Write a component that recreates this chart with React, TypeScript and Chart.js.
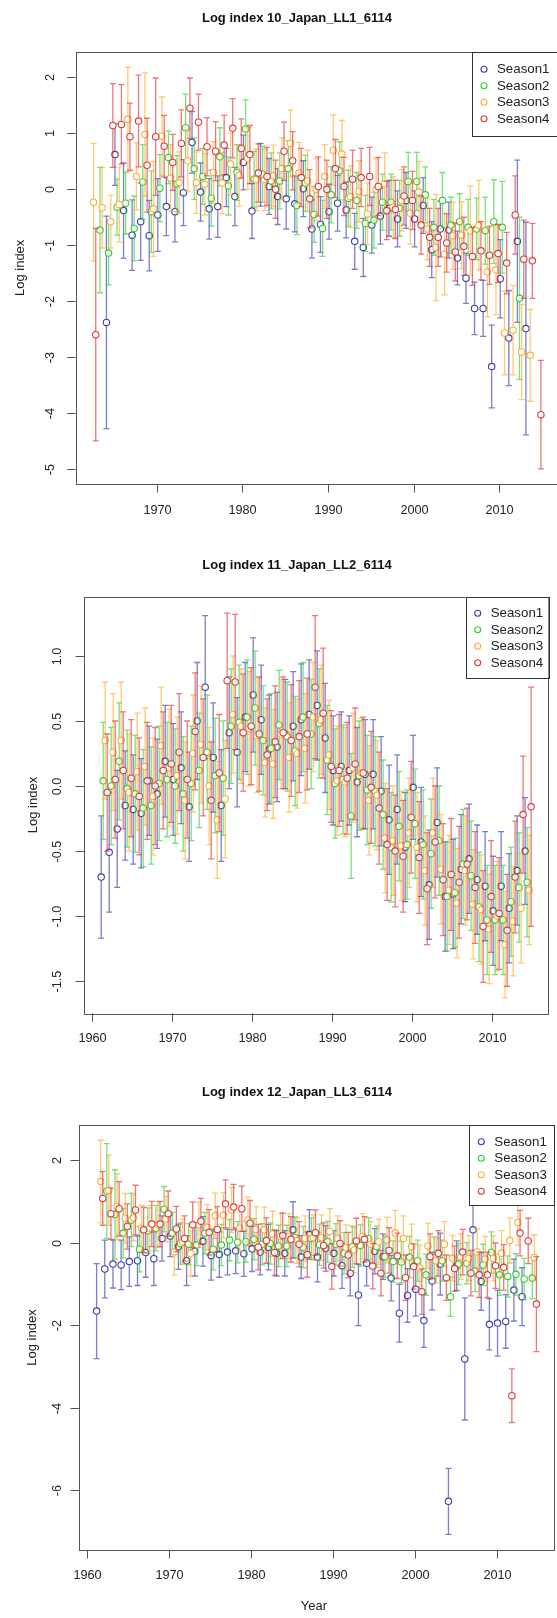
import React, { useEffect, useRef } from "react";
import { Chart, registerables } from "chart.js";

Chart.register(...registerables);

// ---------------- DATA ----------------
const years = [
  1961, 1962, 1963, 1964, 1965, 1966, 1967, 1968, 1969, 1970,
  1971, 1972, 1973, 1974, 1975, 1976, 1977, 1978, 1979, 1980,
  1981, 1982, 1983, 1984, 1985, 1986, 1987, 1988, 1989, 1990,
  1991, 1992, 1993, 1994, 1995, 1996, 1997, 1998, 1999, 2000,
  2001, 2002, 2003, 2004, 2005, 2006, 2007, 2008, 2009, 2010,
  2011, 2012, 2013, 2014,
];
const seasonNames = ["Season1", "Season2", "Season3", "Season4"];
const yAxisTitle = "Log index";
const xAxisTitle = "Year";

// Panel 1 : Log index 10_Japan_LL1_6114
const p1Title = "Log index 10_Japan_LL1_6114";
const p1S1 = [
  null, null, null, -2.38, 0.62, -0.38, -0.82, -0.58, -0.83, -0.46,
  -0.31, -0.4, -0.06, 0.84, -0.05, -0.35, -0.31, 0.21, -0.13, 0.48,
  -0.39, 0.26, 0.05, -0.13, -0.17, -0.26, 0.01, -0.71, -0.63, -0.4,
  -0.25, -0.37, -0.93, -1.04, -0.64, -0.48, -0.34, -0.53, -0.2, -0.53,
  -0.29, -1.08, -0.71, -0.73, -1.23, -1.59, -2.13, -2.13, -3.17, -1.6,
  -2.66, -0.93, -2.49, null,
];
const p1S1Err = [
  null, null, null, 1.9, 0.55, 0.85, 0.63, 0.69, 0.63, 0.65,
  0.52, 0.54, 0.59, 0.55, 0.52, 0.54, 0.55, 0.52, 0.52, 0.49,
  0.49, 0.56, 0.5, 0.5, 0.54, 0.5, 0.5, 0.52, 0.5, 0.49,
  0.5, 0.5, 0.5, 0.52, 0.5, 0.5, 0.5, 0.5, 0.5, 0.5,
  0.5, 0.5, 0.5, 0.5, 0.48, 0.45, 0.47, 0.5, 0.74, 0.7,
  0.85, 1.45, 1.9, null,
];
const p1S2 = [
  null, null, -0.73, -1.14, -0.32, -0.25, -0.7, 0.13, -0.4, 0.02,
  0.57, 0.1, 1.1, 0.37, 0.23, -0.16, 0.58, 0.06, 0.3, 1.08,
  0.18, 0.27, 0.15, 0.15, 0.37, -0.29, 0.11, -0.45, -0.7, -0.1,
  0.33, -0.16, -0.2, -0.61, -0.55, -0.23, -0.23, -0.34, 0.14, 0.14,
  -0.1, -0.68, -0.2, -0.64, -0.58, -0.68, -0.71, -0.74, -0.58, -0.68,
  null, -1.95, null, null,
];
const p1S2Err = [
  null, null, 1.12, 0.57, 0.5, 0.55, 0.58, 0.67, 0.73, 0.6,
  0.47, 0.5, 0.6, 0.55, 0.5, 0.5, 0.52, 0.52, 0.5, 0.52,
  0.5, 0.5, 0.5, 0.5, 0.5, 0.52, 0.5, 0.5, 0.5, 0.5,
  0.52, 0.5, 0.5, 0.5, 0.5, 0.5, 0.5, 0.5, 0.52, 0.52,
  0.5, 0.5, 0.5, 0.5, 0.5, 0.5, 0.55, 0.6, 0.75, 0.82,
  null, 1.45, null, null,
];
const p1S3 = [
  null, -0.23, -0.33, -0.58, -0.27, 1.25, 0.23, 0.98, -0.35, 0.95,
  0.2, 0.12, 0.51, 0.12, 0.09, 0.3, 0.11, 0.45, 0.25, 0.55,
  0.17, 0.17, 0.24, 0.37, 0.82, 0.29, 0.15, 0.0, 0.23, 0.7,
  0.63, -0.13, -0.04, -0.44, 0.0, 0.1, -0.32, -0.2, -0.43, -0.05,
  -0.71, -1.04, -1.16, -0.83, -0.82, -0.74, -0.64, -1.48, -1.44, -2.57,
  -2.52, -2.91, -2.97, null,
];
const p1S3Err = [
  null, 1.05, 0.72, 0.47, 0.67, 0.93, 0.6, 1.1, 0.85, 0.7,
  0.6, 0.55, 0.55, 0.55, 0.55, 0.55, 0.55, 0.55, 0.55, 0.55,
  0.55, 0.55, 0.55, 0.55, 0.6, 0.55, 0.55, 0.55, 0.57, 0.63,
  0.6, 0.55, 0.55, 0.55, 0.55, 0.55, 0.55, 0.55, 0.55, 0.55,
  0.55, 0.95, 0.73, 0.6, 0.6, 0.8, 0.8, 0.8, 0.8, 0.75,
  0.8, 0.85, 0.82, null,
];
const p1S4 = [
  null, -2.6, null, 1.14, 1.16, 0.94, 1.22, 0.43, 0.94, 0.77,
  0.48, 0.82, 1.45, 1.2, 0.76, 0.68, 0.79, 1.09, 0.73, 0.62,
  0.29, 0.23, 0.0, 0.68, 0.51, 0.21, -0.17, 0.05, 0.0, 0.37,
  0.05, 0.18, 0.21, 0.23, 0.05, -0.38, -0.36, -0.12, -0.2, -0.64,
  -0.86, -0.86, -0.96, -1.12, -1.02, -1.2, -1.1, -1.18, -1.15, -1.32,
  -0.46, -1.25, -1.28, -4.03,
];
const p1S4Err = [
  null, 1.9, null, 0.75, 0.71, 0.6, 0.82, 0.84, 1.05, 0.55,
  0.5, 0.6, 0.54, 0.5, 0.52, 0.53, 0.53, 0.53, 0.53, 0.52,
  0.52, 0.52, 0.52, 0.52, 0.52, 0.52, 0.52, 0.53, 0.52, 0.52,
  0.52, 0.52, 0.52, 0.52, 0.52, 0.52, 0.52, 0.52, 0.52, 0.52,
  0.52, 0.52, 0.52, 0.52, 0.52, 0.52, 0.52, 0.52, 0.52, 0.55,
  0.7, 0.7, 0.67, 0.97,
];
const p1XTicks = [1970, 1980, 1990, 2000, 2010];
const p1YTicks = [2, 1, 0, -1, -2, -3, -4, -5];
const p1YTickLabels = ["2", "1", "0", "-1", "-2", "-3", "-4", "-5"];

// Panel 2 : Log index 11_Japan_LL2_6114
const p2Title = "Log index 11_Japan_LL2_6114";
const p2S1 = [
  -0.7, -0.51, -0.33, -0.15, -0.18, -0.21, 0.04, -0.06, 0.19, 0.05,
  0.14, -0.16, 0.5, 0.76, 0.22, -0.15, 0.41, 0.26, 0.53, 0.7,
  0.51, 0.28, 0.3, 0.4, 0.46, 0.51, 0.55, 0.62, 0.37, 0.12,
  0.15, 0.12, 0.03, 0.09, 0.09, -0.04, -0.26, -0.18, -0.47, -0.01,
  -0.43, -0.76, -0.28, -0.85, -0.83, -0.64, -0.56, -0.72, -0.77, -0.96,
  -0.77, -0.94, -0.65, -0.5,
];
const p2S1Err = [
  0.47, 0.46, 0.45, 0.42, 0.42, 0.42, 0.42, 0.42, 0.43, 0.43,
  0.43, 0.42, 0.45, 0.55, 0.42, 0.43, 0.43, 0.42, 0.42, 0.44,
  0.42, 0.42, 0.42, 0.42, 0.42, 0.43, 0.42, 0.42, 0.42, 0.42,
  0.42, 0.42, 0.42, 0.42, 0.42, 0.42, 0.42, 0.42, 0.42, 0.4,
  0.42, 0.42, 0.42, 0.42, 0.42, 0.42, 0.42, 0.42, 0.42, 0.42,
  0.42, 0.42, 0.42, 0.41,
];
const p2S2 = [
  0.04, 0.0, 0.19, -0.02, -0.06, -0.17, -0.15, 0.02, 0.05, 0.0,
  -0.06, 0.02, 0.12, 0.26, 0.08, 0.06, 0.46, 0.49, 0.53, 0.6,
  0.35, 0.29, 0.47, 0.38, 0.27, 0.53, 0.4, 0.48, 0.2, 0.02,
  0.05, -0.23, 0.08, -0.03, -0.04, -0.22, -0.47, -0.31, -0.45, -0.29,
  -0.45, -0.52, -0.42, -0.85, -0.82, -0.6, -0.69, -0.93, -1.03, -1.03,
  -1.03, -0.89, -0.78, -0.74,
];
const p2S2Err = [
  0.45, 0.45, 0.45, 0.45, 0.45, 0.45, 0.45, 0.44, 0.44, 0.44,
  0.44, 0.44, 0.44, 0.44, 0.44, 0.44, 0.44, 0.44, 0.44, 0.44,
  0.42, 0.42, 0.42, 0.42, 0.42, 0.42, 0.42, 0.42, 0.42, 0.42,
  0.42, 0.48, 0.42, 0.42, 0.42, 0.42, 0.42, 0.42, 0.42, 0.42,
  0.42, 0.42, 0.42, 0.42, 0.42, 0.42, 0.42, 0.42, 0.42, 0.42,
  0.42, 0.42, 0.42, 0.42,
];
const p2S3 = [
  0.35, 0.26, 0.35, -0.05, 0.11, 0.15, -0.08, 0.31, 0.14, 0.08,
  -0.11, 0.25, 0.32, 0.0, -0.26, -0.1, 0.55, 0.46, 0.44, 0.39,
  0.18, 0.17, 0.4, 0.22, 0.25, 0.29, 0.53, 0.51, 0.24, 0.04,
  0.03, 0.14, 0.1, -0.11, -0.07, -0.4, -0.42, -0.46, -0.36, -0.47,
  -0.65, -0.36, -0.64, -0.8, -0.9, -0.65, -0.91, -0.95, -1.1, -1.0,
  -1.22, -1.04, -0.94, -0.8,
];
const p2S3Err = [
  0.45, 0.45, 0.45, 0.45, 0.45, 0.45, 0.45, 0.45, 0.45, 0.45,
  0.45, 0.45, 0.45, 0.45, 0.45, 0.45, 0.45, 0.44, 0.44, 0.44,
  0.42, 0.42, 0.42, 0.42, 0.42, 0.42, 0.42, 0.42, 0.42, 0.42,
  0.42, 0.42, 0.42, 0.42, 0.42, 0.42, 0.42, 0.42, 0.42, 0.42,
  0.42, 0.42, 0.42, 0.42, 0.42, 0.42, 0.42, 0.42, 0.42, 0.42,
  0.41, 0.42, 0.42, 0.42,
];
const p2S4 = [
  -0.05, 0.05, 0.12, 0.06, -0.08, 0.04, 0.0, 0.12, 0.17, 0.26,
  0.05, 0.42, 0.22, -0.11, 0.1, 0.81, 0.8, 0.41, 0.46, 0.4,
  0.24, 0.34, 0.41, 0.35, 0.38, 0.4, 0.76, 0.56, 0.15, 0.12,
  0.06, 0.17, 0.1, -0.01, -0.17, -0.45, -0.5, -0.54, -0.24, -0.55,
  -0.79, -0.43, -0.72, -0.68, -0.74, -0.6, -0.78, -1.08, -0.85, -0.98,
  -1.11, -0.7, -0.22, -0.16,
];
const p2S4Err = [
  0.45, 0.45, 0.45, 0.45, 0.45, 0.45, 0.45, 0.45, 0.45, 0.45,
  0.45, 0.45, 0.45, 0.45, 0.45, 0.52, 0.52, 0.45, 0.45, 0.44,
  0.43, 0.43, 0.43, 0.43, 0.43, 0.43, 0.55, 0.5, 0.43, 0.43,
  0.43, 0.43, 0.43, 0.43, 0.43, 0.43, 0.43, 0.43, 0.43, 0.43,
  0.43, 0.43, 0.43, 0.43, 0.43, 0.43, 0.43, 0.43, 0.43, 0.43,
  0.43, 0.43, 0.45, 0.92,
];
const p2XTicks = [1960, 1970, 1980, 1990, 2000, 2010];
const p2YTicks = [1.0, 0.5, 0.0, -0.5, -1.0, -1.5];
const p2YTickLabels = ["1.0", "0.5", "0.0", "-0.5", "-1.0", "-1.5"];

// Panel 3 : Log index 12_Japan_LL3_6114
const p3Title = "Log index 12_Japan_LL3_6114";
const p3S1 = [
  -1.66, -0.64, -0.52, -0.54, -0.46, -0.44, -0.24, -0.39, 0.1, 0.16,
  -0.1, -0.44, -0.21, 0.03, -0.31, -0.29, -0.23, -0.2, -0.27, -0.15,
  -0.23, -0.11, -0.26, -0.26, 0.31, -0.35, 0.2, -0.35, -0.14, -0.26,
  -0.56, -0.74, -1.27, -0.5, -0.21, -0.34, -0.86, -1.71, -1.28, -1.13,
  -1.89, -0.93, -0.52, -6.27, -0.56, -2.82, 0.31, -0.94, -1.98, -1.95,
  -1.91, -1.15, -1.31, null,
];
const p3S1Err = [
  1.15, 0.7, 0.58, 0.6, 0.6, 0.6, 0.6, 0.65, 0.55, 0.5,
  0.55, 0.6, 0.6, 0.6, 0.6, 0.55, 0.55, 0.55, 0.55, 0.55,
  0.55, 0.55, 0.55, 0.55, 0.68, 0.52, 0.6, 0.6, 0.55, 0.55,
  0.55, 0.55, 0.74, 0.55, 0.55, 0.55, 0.55, 0.7, 0.65, 0.65,
  0.65, 0.7, 0.75, 0.8, 0.6, 1.48, 1.0, 0.7, 0.62, 0.8,
  0.65, 0.75, 0.7, null,
];
const p3S2 = [
  null, 1.25, 0.68, 0.23, 0.55, -0.16, 0.29, 0.35, 0.81, 0.23,
  -0.02, -0.04, -0.06, 0.23, -0.16, -0.06, 0.06, 0.01, 0.02, 0.08,
  -0.04, -0.02, -0.08, -0.08, 0.12, -0.11, 0.1, -0.05, 0.02, -0.04,
  -0.26, -0.1, -0.07, 0.1, -0.1, -0.34, -0.46, -0.47, -0.35, -0.44,
  -0.78, -0.36, -0.44, -1.31, -0.52, -0.5, -0.69, -0.54, -0.24, -0.78,
  -0.82, -0.77, -0.88, -0.86,
];
const p3S2Err = [
  null, 1.15, 1.08, 0.6, 0.65, 0.55, 0.55, 0.55, 0.55, 0.5,
  0.5, 0.5, 0.5, 0.5, 0.5, 0.5, 0.5, 0.5, 0.5, 0.5,
  0.5, 0.5, 0.5, 0.5, 0.5, 0.5, 0.5, 0.5, 0.5, 0.5,
  0.5, 0.5, 0.5, 0.5, 0.5, 0.5, 0.5, 0.5, 0.5, 0.5,
  0.5, 0.5, 0.5, 0.48, 0.5, 0.5, 0.5, 0.5, 0.5, 0.5,
  0.5, 0.5, 0.5, 0.5,
];
const p3S3 = [
  1.48, 1.27, 0.87, 0.59, 0.6, 0.35, 0.35, 0.43, 0.57, -0.23,
  0.02, -0.26, 0.43, 0.37, 0.65, 0.66, 0.79, 0.35, 0.55, 0.32,
  0.31, 0.21, 0.15, 0.15, 0.05, 0.1, 0.12, 0.12, 0.27, 0.1,
  -0.12, -0.18, 0.15, -0.04, 0.02, 0.06, 0.23, 0.1, -0.1, -0.61,
  -0.08, -0.44, -0.04, -0.38, -0.34, -0.38, -0.22, -0.4, -0.38, -0.26,
  0.05, 0.49, null, -0.36,
];
const p3S3Err = [
  1.0, 0.85, 0.8, 0.6, 0.55, 0.55, 0.55, 0.55, 0.55, 0.55,
  0.55, 0.55, 0.55, 0.55, 0.55, 0.55, 0.55, 0.55, 0.55, 0.55,
  0.55, 0.55, 0.55, 0.55, 0.55, 0.55, 0.55, 0.55, 0.55, 0.55,
  0.55, 0.55, 0.55, 0.55, 0.55, 0.55, 0.55, 0.55, 0.55, 0.55,
  0.55, 0.55, 0.55, 0.55, 0.55, 0.55, 0.55, 0.55, 0.55, 0.55,
  0.55, 0.55, null, 0.55,
];
const p3S4 = [
  1.07, 0.7, 0.82, 0.39, 0.79, 0.31, 0.45, 0.45, 0.7, 0.33,
  0.1, 0.43, 0.52, 0.25, 0.32, 0.94, 0.86, 0.82, 0.47, -0.11,
  0.05, -0.24, 0.17, 0.08, -0.04, -0.29, 0.24, -0.07, -0.58, -0.02,
  -0.3, 0.04, 0.08, -0.57, -0.74, -0.19, -0.32, -0.85, -0.58, -1.19,
  -0.34, -0.26, -0.85, -0.63, -0.23, -0.74, -0.78, -0.78, -0.56, -0.6,
  -3.71, 0.23, 0.04, -1.49,
];
const p3S4Err = [
  0.65, 0.62, 0.66, 0.55, 0.6, 0.55, 0.55, 0.55, 0.55, 0.55,
  0.55, 0.55, 0.55, 0.55, 0.55, 0.58, 0.55, 0.55, 0.55, 0.55,
  0.55, 0.55, 0.55, 0.55, 0.55, 0.55, 0.55, 0.55, 0.55, 0.55,
  0.55, 0.55, 0.55, 0.55, 0.55, 0.55, 0.55, 0.55, 0.55, 0.55,
  0.55, 0.55, 0.55, 0.55, 0.55, 0.55, 0.55, 0.55, 0.55, 0.55,
  0.65, 0.55, 0.55, 1.15,
];
const p3XTicks = [1960, 1970, 1980, 1990, 2000, 2010];
const p3YTicks = [2, 0, -2, -4, -6];
const p3YTickLabels = ["2", "0", "-2", "-4", "-6"];

// ---------------- STYLE / LAYOUT ----------------
const FONT = '"Liberation Sans", Arial, Helvetica, sans-serif';
const CANVAS_W = 600;
const seasonOffset = [0.125, 0.375, 0.625, 0.875];
const pointColors = ["#3d3db5", "#2fd02f", "#ffae33", "#e23838"];
const barColors = [
  "rgba(45,45,175,0.62)",
  "rgba(40,205,40,0.62)",
  "rgba(255,168,30,0.62)",
  "rgba(225,35,35,0.62)",
];

type Geo = {
  top: number; height: number;
  l: number; r: number; t: number; b: number;
  xMin: number; xMax: number; yMin: number; yMax: number;
  titleY: number; yTickX: number; yLabX: number; xTickY: number;
  legL: number; legH: number; legRow0: number; yearY: number | null;
};

const panels = [
  {
    title: p1Title, series: [p1S1, p1S2, p1S3, p1S4], errs: [p1S1Err, p1S2Err, p1S3Err, p1S4Err],
    xTicks: p1XTicks, yTicks: p1YTicks, yTickLabels: p1YTickLabels,
    geo: { top: 0, height: 540, l: 75.7, r: 558.8, t: 51.7, b: 484,
      xMin: 1960.535, xMax: 2016.965, yMin: -5.27, yMax: 2.46,
      titleY: 18, yTickX: 50, yLabX: 20, xTickY: 510, legL: 472, legH: 83.5, legRow0: 17.6, yearY: null } as Geo,
  },
  {
    title: p2Title, series: [p2S1, p2S2, p2S3, p2S4], errs: [p2S1Err, p2S2Err, p2S3Err, p2S4Err],
    xTicks: p2XTicks, yTicks: p2YTicks, yTickLabels: p2YTickLabels,
    geo: { top: 540, height: 540, l: 84, r: 548.3, t: 56.7, b: 473.3,
      xMin: 1958.975, xMax: 2017.025, yMin: -1.748, yMax: 1.456,
      titleY: 25, yTickX: 57, yLabX: 33, xTickY: 498, legL: 465.7, legH: 81, legRow0: 16.6, yearY: null } as Geo,
  },
  {
    title: p3Title, series: [p3S1, p3S2, p3S3, p3S4], errs: [p3S1Err, p3S2Err, p3S3Err, p3S4Err],
    xTicks: p3XTicks, yTicks: p3YTicks, yTickLabels: p3YTickLabels,
    geo: { top: 1080, height: 538, l: 79, r: 554, t: 45, b: 470,
      xMin: 1958.975, xMax: 2017.025, yMin: -7.45, yMax: 2.85,
      titleY: 12, yTickX: 57, yLabX: 32, xTickY: 495, legL: 469.3, legH: 80, legRow0: 16.7, yearY: 526 } as Geo,
  },
];

const errorBarPlugin = {
  id: "rErrorBars",
  beforeDatasetDraw(chart: any, args: any) {
    const ds: any = chart.data.datasets[args.index];
    const ys = chart.scales.y;
    const ctx = chart.ctx;
    ctx.save();
    ctx.strokeStyle = ds.barColor;
    ctx.lineWidth = 1.3;
    args.meta.data.forEach((pt: any, i: number) => {
      const raw = ds.data[i];
      const x = pt.x;
      const y1 = ys.getPixelForValue(raw.lo);
      const y2 = ys.getPixelForValue(raw.hi);
      ctx.beginPath();
      ctx.moveTo(x, y1); ctx.lineTo(x, y2);
      ctx.moveTo(x - 3, y1); ctx.lineTo(x + 3, y1);
      ctx.moveTo(x - 3, y2); ctx.lineTo(x + 3, y2);
      ctx.stroke();
    });
    ctx.restore();
  },
};

function makeFramePlugin(p: any) {
  const g: Geo = p.geo;
  return {
    id: "rFrame",
    afterDraw(chart: any) {
      const ctx = chart.ctx;
      const { left, right, top, bottom } = chart.chartArea;
      const xs = chart.scales.x;
      const ys = chart.scales.y;
      ctx.save();
      // box
      ctx.strokeStyle = "#555";
      ctx.lineWidth = 1;
      ctx.strokeRect(Math.round(left) + 0.5, Math.round(top) + 0.5, Math.round(right - left), Math.round(bottom - top));
      ctx.fillStyle = "#222";
      // x ticks
      ctx.font = `12.7px ${FONT}`;
      ctx.textAlign = "center";
      ctx.textBaseline = "middle";
      p.xTicks.forEach((v: number) => {
        const px = Math.round(xs.getPixelForValue(v)) + 0.5;
        ctx.beginPath();
        ctx.moveTo(px, bottom); ctx.lineTo(px, bottom + 8.5);
        ctx.stroke();
        ctx.fillText(String(v), px, g.xTickY);
      });
      // y ticks (labels rotated as in R)
      p.yTicks.forEach((v: number, i: number) => {
        const py = Math.round(ys.getPixelForValue(v)) + 0.5;
        ctx.beginPath();
        ctx.moveTo(left - 8.5, py); ctx.lineTo(left, py);
        ctx.stroke();
        ctx.save();
        ctx.translate(g.yTickX, py);
        ctx.rotate(-Math.PI / 2);
        ctx.fillText(p.yTickLabels[i], 0, 0);
        ctx.restore();
      });
      // axis titles
      ctx.font = `13px ${FONT}`;
      ctx.save();
      ctx.translate(g.yLabX, (top + bottom) / 2);
      ctx.rotate(-Math.PI / 2);
      ctx.fillText(yAxisTitle, 0, 0);
      ctx.restore();
      if (g.yearY !== null) {
        ctx.fillText(xAxisTitle, 314, g.yearY);
      }
      // main title
      ctx.font = `bold 13px ${FONT}`;
      ctx.fillStyle = "#111";
      ctx.fillText(p.title, 297, g.titleY);
      // legend
      const lx = g.legL;
      const lw = right - lx;
      ctx.fillStyle = "#fff";
      ctx.fillRect(lx, top, lw, g.legH);
      ctx.strokeStyle = "#333";
      ctx.strokeRect(Math.round(lx) + 0.5, Math.round(top) + 0.5, Math.round(lw), Math.round(g.legH));
      ctx.font = `13.3px ${FONT}`;
      ctx.textAlign = "left";
      seasonNames.forEach((name, s) => {
        const cy = top + g.legRow0 + s * 16.5;
        ctx.beginPath();
        ctx.strokeStyle = pointColors[s];
        ctx.lineWidth = 1.1;
        ctx.arc(lx + 12, cy, 3, 0, Math.PI * 2);
        ctx.stroke();
        ctx.fillStyle = "#222";
        ctx.fillText(name, lx + 25, cy + 0.5);
      });
      ctx.restore();
    },
  };
}

function buildDatasets(p: any) {
  return seasonNames.map((name, s) => {
    const vals: (number | null)[] = p.series[s];
    const errs: (number | null)[] = p.errs[s];
    const data: any[] = [];
    years.forEach((yr, i) => {
      const v = vals[i];
      const e = errs[i];
      if (v === null || v === undefined) return;
      const h = e === null || e === undefined ? 0 : e;
      data.push({ x: yr + seasonOffset[s], y: v, lo: v - h, hi: v + h });
    });
    return {
      label: name,
      data,
      barColor: barColors[s],
      showLine: false,
      pointRadius: 3.2,
      pointBorderWidth: 1.1,
      pointBorderColor: pointColors[s],
      pointBackgroundColor: "#ffffff",
      order: 3 - s,
    };
  });
}

function Panel({ p }: { p: any }) {
  const ref = useRef<HTMLCanvasElement | null>(null);
  const g: Geo = p.geo;
  useEffect(() => {
    if (!ref.current) return;
    const chart = new Chart(ref.current, {
      type: "scatter",
      data: { datasets: buildDatasets(p) as any },
      options: {
        animation: false,
        responsive: false,
        devicePixelRatio: 1,
        events: [],
        layout: {
          padding: { left: g.l, right: CANVAS_W - g.r, top: g.t, bottom: g.height - g.b },
        },
        scales: {
          x: { type: "linear", min: g.xMin, max: g.xMax, display: false },
          y: { type: "linear", min: g.yMin, max: g.yMax, display: false },
        },
        plugins: {
          legend: { display: false },
          title: { display: false },
          tooltip: { enabled: false },
        },
      },
      plugins: [errorBarPlugin, makeFramePlugin(p)],
    } as any);
    return () => chart.destroy();
  }, []);
  return (
    <canvas
      ref={ref}
      width={CANVAS_W}
      height={g.height}
      style={{ position: "absolute", left: 0, top: g.top, width: CANVAS_W, height: g.height }}
    />
  );
}

export default function App() {
  return (
    <div
      style={{
        position: "absolute",
        left: 0,
        top: 0,
        width: 557,
        height: 1618,
        overflow: "hidden",
        background: "#ffffff",
      }}
    >
      {panels.map((p, i) => (
        <Panel key={i} p={p} />
      ))}
    </div>
  );
}
